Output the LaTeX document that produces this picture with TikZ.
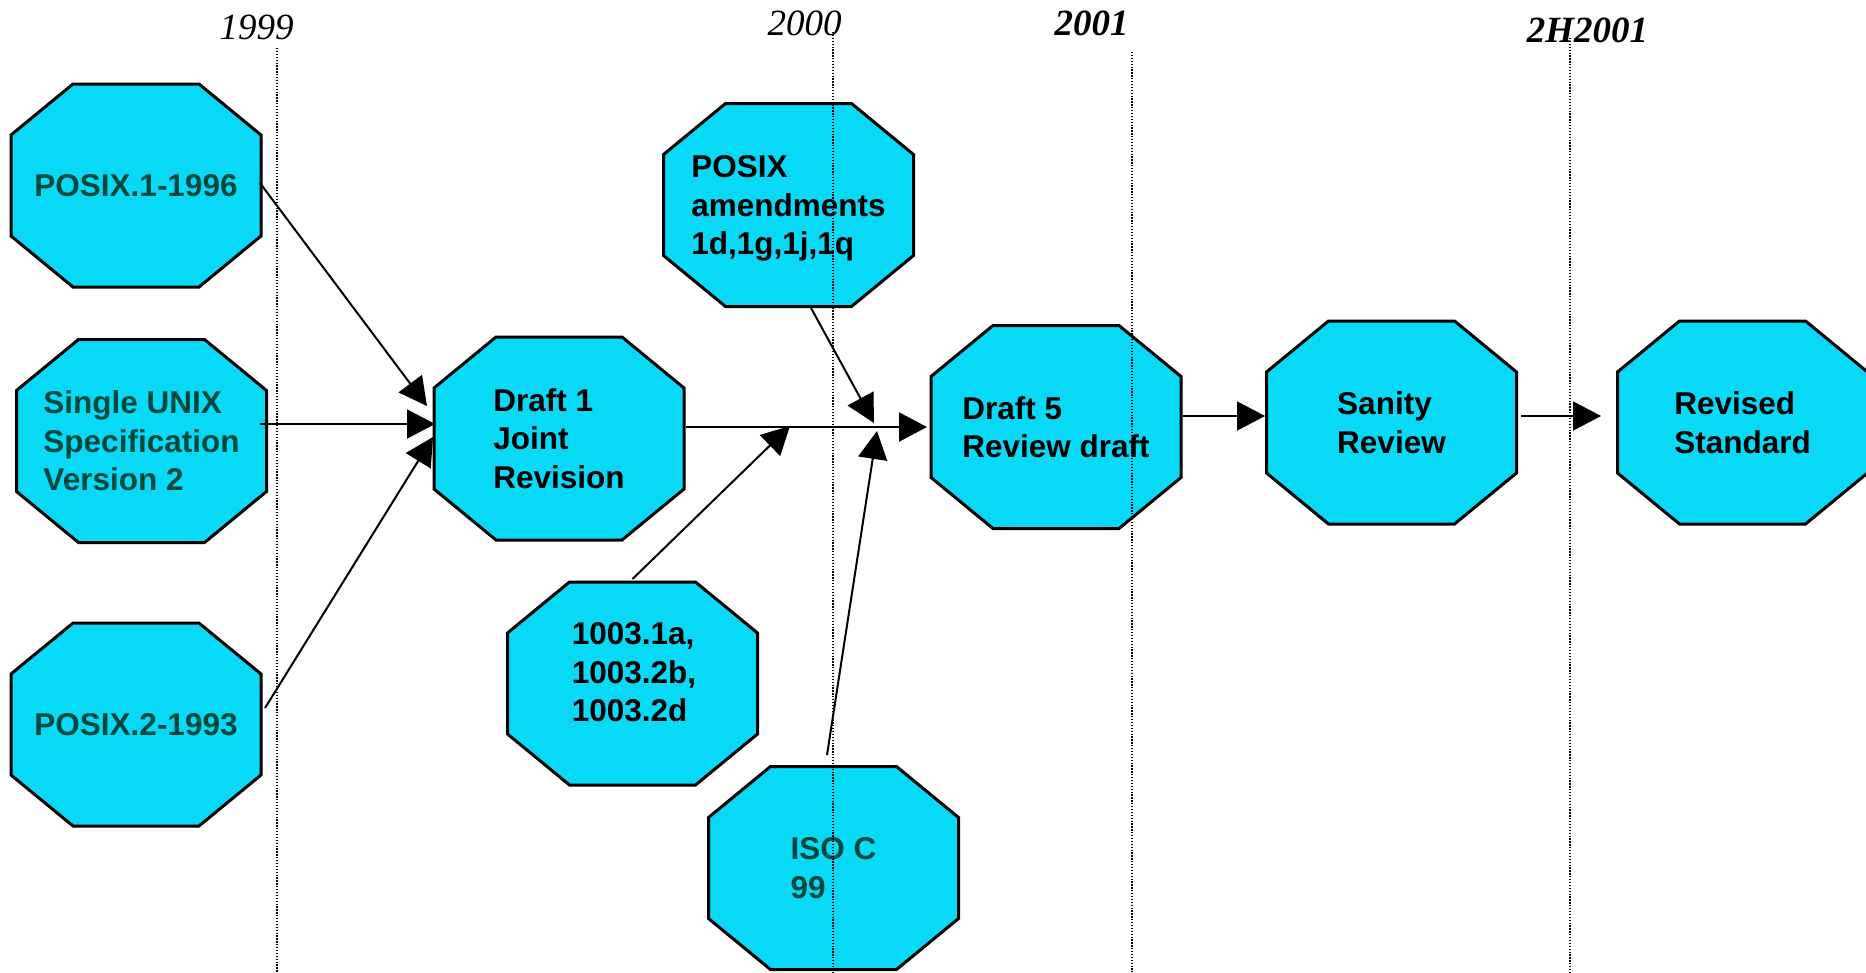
\documentclass[tikz,border=0pt]{standalone}
\usepackage{fontspec}
\setmainfont{Liberation Sans}
\newfontfamily\yearfont{Liberation Serif}
\usetikzlibrary{arrows.meta}
\definecolor{octfill}{RGB}{8,217,247}
\definecolor{octgreen}{RGB}{0,72,60}
\newcommand{\octfont}{\fontsize{31.5}{38.5}\selectfont\bfseries}
\begin{document}
\begin{tikzpicture}[x=1pt,y=-1pt,
  oct/.style={rectangle, minimum width=256pt, minimum height=209pt, inner sep=0pt, outer sep=0pt,
    align=left, font=\octfont, text=black, text depth=-5pt,
    path picture={\fill[octfill,draw=black,line width=3pt]
      ([shift={(65pt,-3pt)}]path picture bounding box.north west) --
      ([shift={(-65pt,-3pt)}]path picture bounding box.north east) --
      ([shift={(-3pt,-54pt)}]path picture bounding box.north east) --
      ([shift={(-3pt,54pt)}]path picture bounding box.south east) --
      ([shift={(-65pt,3pt)}]path picture bounding box.south east) --
      ([shift={(65pt,3pt)}]path picture bounding box.south west) --
      ([shift={(3pt,54pt)}]path picture bounding box.south west) --
      ([shift={(3pt,-54pt)}]path picture bounding box.north west) -- cycle;}},
  gtext/.style={text=octgreen},
  octtxt/.style={align=left, font=\octfont, inner sep=0pt, text=black},
  conn/.style={line width=2pt, -{Triangle[length=28pt,width=29pt]}},
  dotline/.style={line width=1.3pt, dash pattern=on 1.3pt off 1.6pt},
  year/.style={font=\yearfont\itshape\fontsize{37}{37}\selectfont, inner sep=0pt},
  yearb/.style={font=\yearfont\bfseries\itshape\fontsize{37}{37}\selectfont, inner sep=0pt}]
\useasboundingbox (0,0) rectangle (1866,972);

% octagon nodes
\node[oct, gtext] (p1)  at (136,185.5)  {POSIX.1-1996};
\node[oct, gtext] (sus) at (141.5,441)  {Single UNIX\\Specification\\Version 2};
\node[oct, gtext] (p2)  at (136,724.5)  {POSIX.2-1993};
\node[oct] (d1)  at (559,438.5) {Draft 1\\Joint\\Revision};
\node[oct] (amd) at (788.5,205) {POSIX\\amendments\\1d,1g,1j,1q};
\node[oct] (s1003) at (632.5,683.5) {};
\node[octtxt] (s1003t) at (634,672.5) {1003.1a,\\1003.2b,\\1003.2d};
\node[oct, gtext] (iso) at (833.5,868) {ISO C\\99};
\node[oct] (d5)  at (1056,427)    {Draft 5\\Review draft};
\node[oct] (san) at (1391.5,422.5) {Sanity\\Review};
\node[oct] (rev) at (1742.5,422.5) {Revised\\Standard};

% year labels
\node[year]  (y1) at (256.5,27.5) {1999};
\node[year]  (y2) at (804.5,23)   {2000};
\node[yearb] (y3) at (1091.5,23.5) {2001};
\node[yearb] (y4) at (1587.5,30)  {2H2001};

% junction points on the Draft 1 -> Draft 5 line
\coordinate (j1) at (790,426);
\coordinate (j2) at (874,423);
\coordinate (j3) at (877,431);

% connectors
\draw[conn] ([shift={(-4pt,2.5pt)}]p1.east) -- ([shift={(-4pt,32.5pt)}]d1.west);
\draw[conn] ([shift={(-9.5pt,17pt)}]sus.east) -- ([shift={(4pt,14.5pt)}]d1.west);
\draw[conn] ([shift={(1pt,16.5pt)}]p2.east) -- ([shift={(2pt,1.5pt)}]d1.west);
\draw[conn] ([shift={(-1pt,11.5pt)}]d1.east) -- ([shift={(-1pt,0pt)}]d5.west);
\draw[conn] (s1003.north) -- (j1);
\draw[conn] ([shift={(22.5pt,1.5pt)}]amd.south) -- (j2);
\draw[conn] ([shift={(-6.5pt,8.5pt)}]iso.north) -- (j3);
\draw[conn] ([shift={(-1pt,11pt)}]d5.east) -- ([shift={(1.5pt,6.5pt)}]san.west);
\draw[conn] ([shift={(1.5pt,6.5pt)}]san.east) -- ([shift={(-13.5pt,6.5pt)}]rev.west);

% dotted time lines
\draw[dotline] (277,48) -- (277,972);
\draw[dotline] (833,32) -- (833,972);
\draw[dotline] (1132,52) -- (1132,972);
\draw[dotline] (1570,38) -- (1570,972);
\end{tikzpicture}
\end{document}
